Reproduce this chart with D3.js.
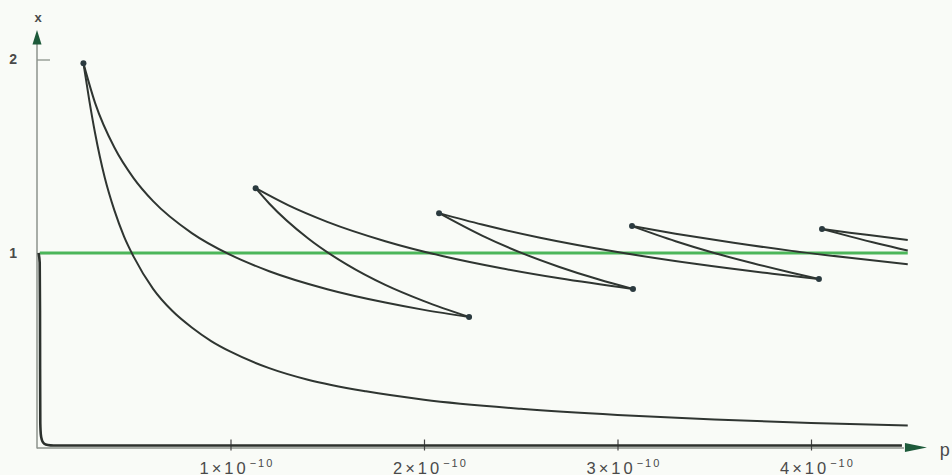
<!DOCTYPE html>
<html>
<head>
<meta charset="utf-8">
<script src="https://cdn.jsdelivr.net/npm/d3@7"></script>
<style>
    body { margin: 0; background: #f9fbf7; }
    #chart { width: 952px; height: 475px; }
    text { font-family: "Liberation Sans", Arial, sans-serif; fill: #4a4a4a; }
</style>
</head>
<body>
<div id="chart"></div>
<script>

// p is given in units of 1e-10
let pTicks = [1, 2, 3, 4];
let xTicks = [1, 2];

// dots where each new branch starts, and where two branches meet
let startPoints = [[0.24, 1.98], [1.13, 1.335], [2.078, 1.206], [3.075, 1.139], [4.057, 1.124]];
let meetPoints = [[2.233, 0.669], [3.08, 0.814], [4.041, 0.866]];

// curve hugging the axes
let nearAxis = [[0.008, 1.0], [0.014, 0.95], [0.0155, 0.7], [0.016, 0.4], [0.017, 0.12], [0.02, 0.06],
    [0.025, 0.035], [0.032, 0.02], [0.045, 0.01], [0.07, 0.006], [0.1, 0.005], [0.5, 0.005], [2, 0.005], [4.47, 0.005]];

// steep branches
let steep1 = [[0.24, 1.98], [0.27, 1.79], [0.3, 1.62], [0.35, 1.39], [0.4, 1.22], [0.45, 1.085], [0.5, 0.98],
    [0.6, 0.815], [0.7, 0.70], [0.8, 0.615], [0.9, 0.545], [1.0, 0.49], [1.2, 0.405], [1.4, 0.345], [1.7, 0.285],
    [2.0, 0.242], [2.5, 0.195], [3.0, 0.163], [3.5, 0.14], [4.0, 0.122], [4.5, 0.108]];
let steep2 = [[1.13, 1.335], [1.2, 1.256], [1.4, 1.076], [1.6, 0.941], [1.8, 0.835], [2.0, 0.751], [2.233, 0.669]];
let steep3 = [[2.078, 1.206], [2.3, 1.09], [2.5, 1.002], [2.7, 0.928], [2.9, 0.864], [3.08, 0.814]];
let steep4 = [[3.075, 1.139], [3.3, 1.061], [3.5, 1.0], [3.7, 0.947], [3.9, 0.898], [4.041, 0.866]];
let steep5 = [[4.057, 1.124], [4.2, 1.086], [4.35, 1.048], [4.5, 1.013]];

// shallow branches
let shallow1 = [[0.24, 1.98], [0.3, 1.776], [0.4, 1.545], [0.5, 1.386], [0.6, 1.268], [0.8, 1.103], [1.0, 0.99],
    [1.2, 0.906], [1.5, 0.813], [1.8, 0.744], [2.0, 0.706], [2.233, 0.669]];
let shallow2 = [[1.13, 1.335], [1.3, 1.246], [1.5, 1.161], [1.8, 1.061], [2.1, 0.983], [2.4, 0.921], [2.7, 0.869], [3.08, 0.814]];
let shallow3 = [[2.078, 1.206], [2.3, 1.147], [2.6, 1.079], [3.0, 1.005], [3.4, 0.944], [3.8, 0.893], [4.041, 0.866]];
let shallow4 = [[3.075, 1.139], [3.3, 1.1], [3.6, 1.053], [3.9, 1.011], [4.2, 0.975], [4.5, 0.942]];
let shallow5 = [[4.057, 1.124], [4.2, 1.105], [4.35, 1.086], [4.5, 1.067]];

let unityLine = [[0.015, 1], [4.5, 1]];


class IterationVis {

    constructor(parentElement) {
        this._parentElement = parentElement;
    }

    initVis() {
        let vis = this;

        vis.margin = {top: 59.5, right: 44.25, bottom: 28.5, left: 37};

        vis.width = document.getElementById(vis._parentElement).getBoundingClientRect().width - vis.margin.left - vis.margin.right;
        vis.height = document.getElementById(vis._parentElement).getBoundingClientRect().height - vis.margin.top - vis.margin.bottom;

        vis.svg = d3.select("#" + vis._parentElement).append("svg")
            .attr("width", vis.width + vis.margin.left + vis.margin.right)
            .attr("height", vis.height + vis.margin.top + vis.margin.bottom)
            .append("g")
            .attr("transform", "translate(" + vis.margin.left + "," + vis.margin.top + ")");

        vis.x = d3.scaleLinear()
            .domain([0, 4.5])
            .range([0, vis.width]);

        vis.y = d3.scaleLinear()
            .domain([0, 2])
            .range([vis.height, 0]);

        vis.line = d3.line()
            .x(d => vis.x(d[0]))
            .y(d => vis.y(d[1]))
            .curve(d3.curveMonotoneX);

        // axis lines + arrows
        vis.svg.append("line")
            .attr("x1", 0).attr("x2", 0)
            .attr("y1", vis.height + 2).attr("y2", -16)
            .attr("stroke", "#8c938c")
            .attr("stroke-width", 1.5);

        vis.svg.append("line")
            .attr("x1", 0).attr("x2", vis.x(4.47) + 2)
            .attr("y1", vis.height + 1.5).attr("y2", vis.height + 1.5)
            .attr("stroke", "#8c938c")
            .attr("stroke-width", 1.5);

        vis.svg.append("path")
            .attr("d", "M0,-29.5 L-4.5,-15 L4.5,-15 Z")
            .attr("fill", "#1d5a3a");

        vis.svg.append("path")
            .attr("d", "M" + (vis.x(4.47) + 25) + "," + (vis.height + 1) + " l-22,-4.5 l0,9 Z")
            .attr("fill", "#1d5a3a");

        // y axis ticks
        vis.yAxis = d3.axisLeft(vis.y)
            .tickValues(xTicks)
            .tickSizeInner(-13)
            .tickSizeOuter(0)
            .tickPadding(20)
            .tickFormat(d3.format("d"));

        vis.svg.append("g")
            .attr("class", "y-axis axis")
            .call(vis.yAxis)
            .call(g => g.select(".domain").remove())
            .call(g => g.selectAll(".tick line").attr("stroke", "#8c938c").attr("stroke-width", 1.3))
            .call(g => g.selectAll(".tick text")
                .attr("font-size", 14)
                .attr("font-weight", "bold")
                .attr("fill", "#555")
                .style("font-family", "'Liberation Sans', Arial, sans-serif"));

        // x axis ticks (labels are drawn below with superscripts)
        vis.xAxis = d3.axisBottom(vis.x)
            .tickValues(pTicks)
            .tickSizeOuter(0)
            .tickFormat("");

        vis.svg.append("g")
            .attr("class", "x-axis axis")
            .attr("transform", "translate(0," + vis.height + ")")
            .call(vis.xAxis)
            .call(g => g.select(".domain").remove())
            .call(g => g.selectAll(".tick line")
                .attr("y1", -7).attr("y2", 4)
                .attr("stroke", "#444").attr("stroke-width", 1.2));

        let labels = vis.svg.selectAll(".p-label")
            .data(pTicks)
            .enter().append("text")
            .attr("class", "p-label")
            .attr("x", d => vis.x(d) - 31)
            .attr("y", vis.height + 27)
            .attr("font-size", 16.5)
            .attr("letter-spacing", 3);

        labels.append("tspan").text(d => d + "\u00d710");
        labels.append("tspan")
            .attr("dy", -7)
            .attr("dx", 1)
            .attr("font-size", 11)
            .attr("letter-spacing", 2)
            .text("\u221210");

        // axis names
        vis.svg.append("text")
            .attr("x", 1)
            .attr("y", -37.5)
            .attr("text-anchor", "middle")
            .attr("font-size", 13)
            .attr("font-weight", "bold")
            .attr("fill", "#555")
            .text("x");

        vis.svg.append("text")
            .attr("x", vis.width + 37)
            .attr("y", vis.height + 9)
            .attr("text-anchor", "middle")
            .attr("font-size", 18)
            .text("p");

        vis.updateVis();
    }

    updateVis() {
        let vis = this;

        vis.svg.append("path")
            .datum(unityLine)
            .attr("d", vis.line)
            .attr("fill", "none")
            .attr("stroke", "#4cb65a")
            .attr("stroke-width", 3);

        vis.svg.append("path")
            .datum(nearAxis)
            .attr("d", vis.line)
            .attr("fill", "none")
            .attr("stroke", "#2c312d")
            .attr("stroke-width", 2.6);

        let branches = [steep1, steep2, steep3, steep4, steep5, shallow1, shallow2, shallow3, shallow4, shallow5];

        vis.svg.selectAll(".branch")
            .data(branches)
            .enter().append("path")
            .attr("class", "branch")
            .attr("d", vis.line)
            .attr("fill", "none")
            .attr("stroke", "#2f3531")
            .attr("stroke-width", 2);

        vis.svg.selectAll(".dot")
            .data(startPoints.concat(meetPoints))
            .enter().append("circle")
            .attr("class", "dot")
            .attr("cx", d => vis.x(d[0]))
            .attr("cy", d => vis.y(d[1]))
            .attr("r", 3)
            .attr("fill", "#2b3a3f");
    }
}

let chart = new IterationVis("chart");
chart.initVis();

</script>
</body>
</html>
